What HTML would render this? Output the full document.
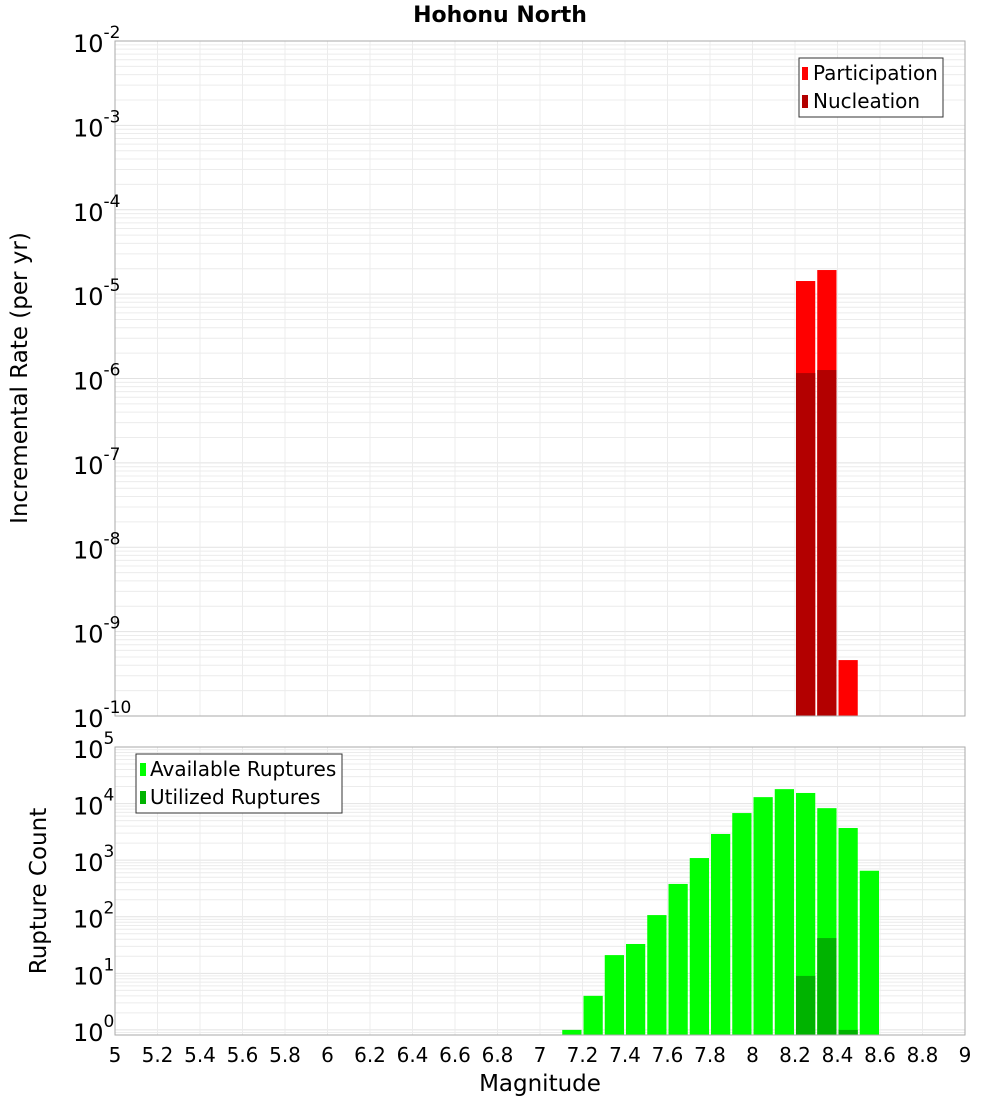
<!DOCTYPE html>
<html><head><meta charset="utf-8"><style>
body{margin:0;background:#fff;}
svg text{font-family:"DejaVu Sans","Liberation Sans",sans-serif;}
</style></head><body>
<svg id="chart" width="1000" height="1100" xmlns="http://www.w3.org/2000/svg" style="position:absolute;left:0;top:0"></svg>
<script>
const binCenters = [8.25, 8.35, 8.45];
const participation = [1.43e-5, 1.93e-5, 4.6e-10];
const nucleation = [1.16e-6, 1.26e-6, 0];
const rupCenters = [7.15,7.25,7.35,7.45,7.55,7.65,7.75,7.85,7.95,8.05,8.15,8.25,8.35,8.45,8.55];
const available = [1.0,4,21,33,107,380,1090,2900,6800,13000,18000,15400,8300,3700,650];
const utilized = [0,0,0,0,0,0,0,0,0,0,0,9,42,1.0,0];
const xTicks = ["5","5.2","5.4","5.6","5.8","6","6.2","6.4","6.6","6.8","7","7.2","7.4","7.6","7.8","8","8.2","8.4","8.6","8.8","9"];

const svgEl = document.getElementById('chart');
const NS = 'http://www.w3.org/2000/svg';
function mk(tag, attrs, parent){const e=document.createElementNS(NS,tag);for(const k in attrs)e.setAttribute(k,attrs[k]);(parent||svgEl).appendChild(e);return e;}
const L=115,R=965;
const xS = m => L + (m-5)/4*(R-L);
const topP = {t:41,b:716,min:-10,max:-2};
const botP = {t:747,b:1035,min:-0.09,max:5};
const yS = (p,v) => p.b - (Math.log10(v)-p.min)/(p.max-p.min)*(p.b-p.t);

function panel(p,name){
  const g=mk('g',{});
  
  
  mk('rect',{x:L,y:p.t,width:R-L,height:p.b-p.t,fill:'#fff'},g);
  for(let d=Math.floor(p.min);d<p.max;d++){
    for(let k=1;k<10;k++){
      const v=Math.pow(10,d)*k; const yy=yS(p,v);
      if(yy<p.t||yy>p.b)continue;
      mk('line',{x1:L,x2:R,y1:yy,y2:yy,stroke:k==1?'#e2e2e2':'#ececec','stroke-width':1},g);
    }
  }
  for(let i=0;i<=20;i++){const xx=xS(5+i*0.2);mk('line',{x1:xx,x2:xx,y1:p.t,y2:p.b,stroke:'#ececec'},g);}
  return g;
}
function frame(p,name){const r=mk('rect',{x:L,y:p.t,width:R-L,height:p.b-p.t,fill:'none',stroke:'#aaa'});}
function yLabels(p,name,exps,supSize){
  exps.forEach(e=>{
    const yy=yS(p,Math.pow(10,e));
    const t=mk('text',{x:L-42,y:yy+11,'font-size':24,fill:'#000'});
    
    
    t.textContent='10';
    const s=mk('tspan',{dy:-14,'font-size':supSize},t);s.textContent=String(e);
  });
}

panel(topP,'rate');
binCenters.forEach((c,i)=>{
  const r=mk('rect',{x:xS(c-0.05)+1,y:yS(topP,participation[i]),width:xS(c+0.05)-xS(c-0.05)-2,height:topP.b-yS(topP,participation[i]),fill:'#ff0000'});
  
  
  if(nucleation[i]>0){
    const n=mk('rect',{x:xS(c-0.05)+1,y:yS(topP,nucleation[i]),width:xS(c+0.05)-xS(c-0.05)-2,height:topP.b-yS(topP,nucleation[i]),fill:'#b30000'});
    
    
  }
});
frame(topP,'rate');
yLabels(topP,'rate',[-2,-3,-4,-5,-6,-7,-8,-9,-10],17);

panel(botP,'count');
rupCenters.forEach((c,i)=>{
  const r=mk('rect',{x:xS(c-0.05)+1,y:yS(botP,available[i]),width:xS(c+0.05)-xS(c-0.05)-2,height:botP.b-yS(botP,available[i]),fill:'#00ff00'});
  
  
  if(utilized[i]>0){
    const n=mk('rect',{x:xS(c-0.05)+1,y:yS(botP,utilized[i]),width:xS(c+0.05)-xS(c-0.05)-2,height:botP.b-yS(botP,utilized[i]),fill:'#00b300'});
    
    
  }
});
frame(botP,'count');
yLabels(botP,'count',[5,4,3,2,1,0],17);

xTicks.forEach(t=>{
  const tx=mk('text',{x:xS(parseFloat(t)),y:1062,'font-size':20,'text-anchor':'middle',fill:'#000'});
  
  
  tx.textContent=t;
});
</script>
<svg width="1000" height="1100" style="position:absolute;left:0;top:0" xmlns="http://www.w3.org/2000/svg">
<text x="500" y="22" font-size="22" font-weight="bold" text-anchor="middle">Hohonu North</text>
<text transform="translate(27,378) rotate(-90)" font-size="23" text-anchor="middle">Incremental Rate (per yr)</text>
<text transform="translate(46,891) rotate(-90)" font-size="23" text-anchor="middle">Rupture Count</text>
<text x="540" y="1091" font-size="23" text-anchor="middle">Magnitude</text>
<g font-size="20">
<rect x="799" y="58" width="144" height="59" fill="#fff" stroke="#333"/>
<rect x="802" y="67" width="6" height="13" fill="#ff0000"/>
<text x="813" y="80">Participation</text>
<rect x="802" y="95" width="6" height="13" fill="#b30000"/>
<text x="813" y="108">Nucleation</text>
</g>
<g font-size="20">
<rect x="136" y="754" width="206" height="59" fill="#fff" stroke="#333"/>
<rect x="140" y="763" width="6" height="13" fill="#00ff00"/>
<text x="150" y="776">Available Ruptures</text>
<rect x="140" y="791" width="6" height="13" fill="#00b300"/>
<text x="150" y="804">Utilized Ruptures</text>
</g>
</svg>
</body></html>
